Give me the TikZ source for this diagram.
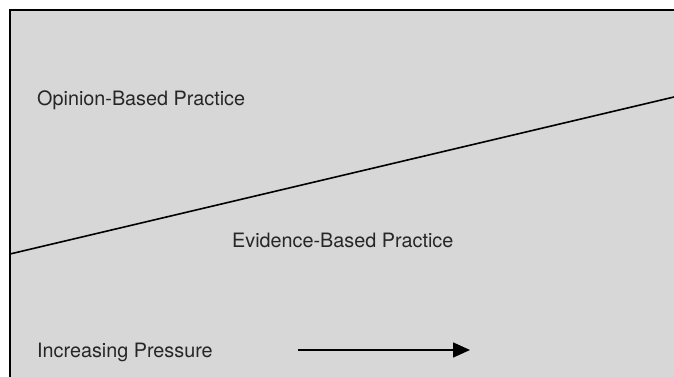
\documentclass[tikz,border=0pt]{standalone}
\usepackage{fontspec}
\setmainfont{TeX Gyre Heros}
\usepackage{tikz}
\usetikzlibrary{arrows.meta,backgrounds,calc}
\definecolor{panelgray}{RGB}{215,215,215}

\begin{document}
\begin{tikzpicture}[x=1pt,y=1pt,
  label/.style={anchor=west,inner sep=0pt,font=\fontsize{19.8}{23}\selectfont,text=black!85}]
\useasboundingbox (0,0) rectangle (674,377);
\fill[panelgray] (10,0) rectangle (674,367);
\draw[line width=2.2pt] (10,0) -- (10,367) -- (674,367);
% dividing line
\coordinate (lo) at (10,123);
\coordinate (hi) at (674,280);
\draw[line width=1.6pt] (lo) -- (hi);
\node[label] (opinion) at (37,277) {Opinion-Based Practice};
\node[label] (evidence) at (232,137) {Evidence-Based Practice};
\node[label] (pressure) at (37,25) {Increasing Pressure};
\coordinate (arrstart) at (298,27);
\coordinate (arrend) at (470,27);
\draw[line width=1.6pt,-{Triangle[length=17pt,width=15pt]}] (arrstart) -- (arrend);
\end{tikzpicture}
\end{document}
